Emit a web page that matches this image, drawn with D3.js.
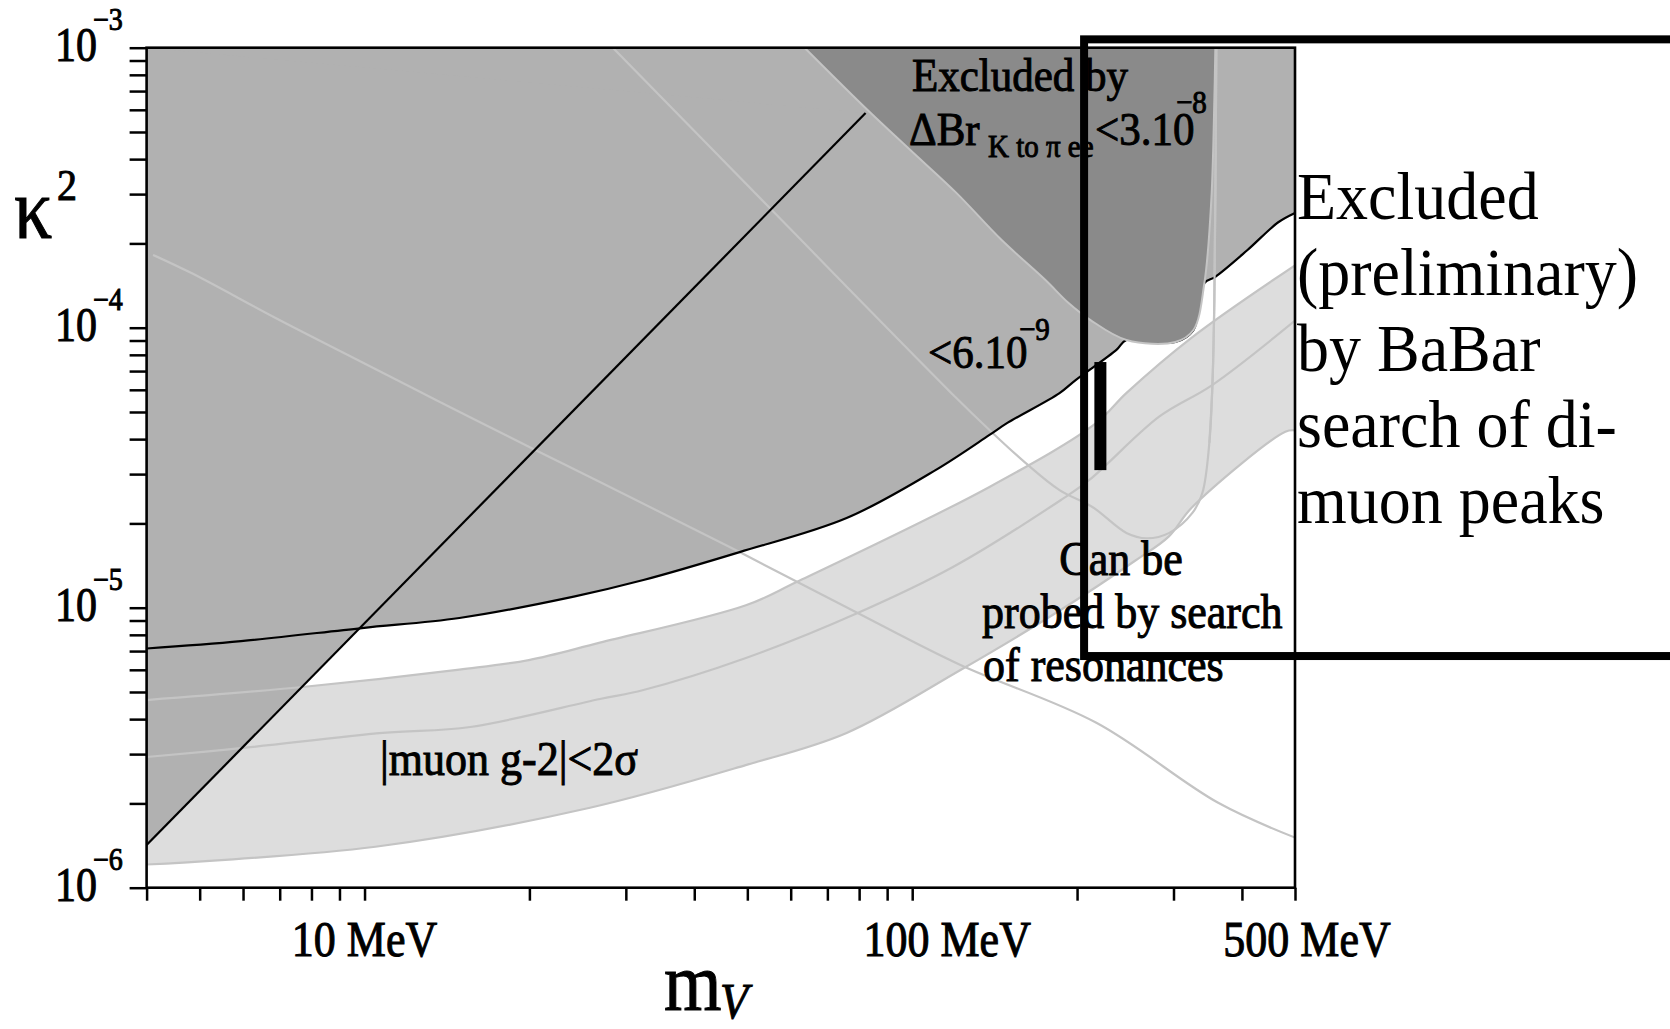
<!DOCTYPE html>
<html>
<head>
<meta charset="utf-8">
<script src="https://cdn.jsdelivr.net/npm/d3@7"></script>
<style>
  html, body { margin: 0; padding: 0; background: #fff; }
  svg { display: block; }
</style>
</head>
<body>
<svg id="chart" width="1670" height="1029"></svg>
<script>
// ---------------- DATA (x: m_V in MeV, y: kappa^2) ----------------
const xTicks = [4,5,6,7,8,9,10,20,30,40,50,60,70,80,90,100,200,300,400,500];
const xLabelValues = [10, 100, 500];
const xLabelTexts = ["10 MeV", "100 MeV", "500 MeV"];
const yTicks = [1e-6,2e-6,3e-6,4e-6,5e-6,6e-6,7e-6,8e-6,9e-6,
                1e-5,2e-5,3e-5,4e-5,5e-5,6e-5,7e-5,8e-5,9e-5,
                1e-4,2e-4,3e-4,4e-4,5e-4,6e-4,7e-4,8e-4,9e-4,1e-3];
const yLabelExponents = [-6, -5, -4, -3];

// black boundary of the excluded (medium grey) region
const excludedBoundary = [[4,7.15e-6],[5.95,7.6e-6],[9.89,8.46e-6],[14.9,9.19e-6],[24.1,1.096e-5],
  [32.3,1.256e-5],[48.4,1.58e-5],[75.9,2.09e-5],[110.3,3.1e-5],[138.4,4.14e-5],[149.2,4.57e-5],
  [185.8,5.84e-5],[198.8,6.5e-5],[236,8.33e-5],[246.1,9.04e-5],[302.4,8.89e-5],[326.2,9.81e-5],
  [341.6,1.444e-4],[357.7,1.52e-4],[409,1.89e-4],[466,2.38e-4],[500,2.57e-4]];

// straight diagonal black line (kappa^2 ~ m^2)
const diagonalLine = [[4,1.42e-6],[82.2,5.84e-4]];

// muon g-2 band: upper edge, central line, lower edge
const g2Upper = [[4,4.68e-6],[7.7,5.21e-6],[14.9,6.01e-6],[19.95,6.5e-6],[26.9,7.5e-6],[49.7,1.02e-5],
  [61.5,1.235e-5],[138.4,2.7e-5],[216.9,4.57e-5],[246,5.84e-5],[324.8,9.26e-5],[500,1.67e-4]];
const g2Central = [[4,2.93e-6],[5.95,3.15e-6],[10.8,3.57e-6],[15.6,3.75e-6],[26.9,4.72e-6],[32.3,5.08e-6],
  [49.7,6.61e-6],[79.5,9.57e-6],[118.9,1.4e-5],[186.6,2.42e-5],[210.6,2.86e-5],[282.8,4.82e-5],
  [353,6.24e-5],[500,1.06e-4]];
const g2Lower = [[4,1.21e-6],[10.47,1.4e-6],[25.8,1.93e-6],[49.65,2.74e-6],[75.9,3.57e-6],[122.5,5.99e-6],
  [186.6,9.81e-6],[256.4,1.48e-5],[293.6,1.79e-5],[324.8,2.29e-5],[480,4.25e-5],[500,4.3e-5]];

// long light grey descending line
const descendingLine = [[4.11,1.82e-4],[4.82,1.57e-4],[6.88,1.083e-4],[9.17,8.12e-5],[13.5,5.52e-5],
  [20.5,3.66e-5],[26.9,2.81e-5],[48.4,1.58e-5],[79.5,9.57e-6],[122.5,6.24e-6],[216.9,3.88e-6],
  [362,2.01e-6],[500,1.51e-6]];

// contour  Delta Br < 6.10^-9  (light grey U line)
const contour6e9 = [[28.4,1e-3],[54.9,2.68e-4],[120.4,5.61e-5],[138.4,4.31e-5],[161,3.29e-5],
  [185.8,2.63e-5],[213.3,2.29e-5],[246.1,1.85e-5],[267.7,1.77e-5],[294.8,1.85e-5],[324.8,2.18e-5],
  [338.7,2.57e-5],[348.8,3.88e-5],[353.2,6.14e-5],[356.2,1.256e-4],[359.2,1e-3]];

// contour  Delta Br < 3.10^-8  (dark grey region)
const contour3e8 = [[63.6,1e-3],[82.9,5.99e-4],[99.2,4.31e-4],[120.4,3.03e-4],[145.5,2.06e-4],
  [175.1,1.48e-4],[193,1.225e-4],[211.6,1.065e-4],[246.1,9.04e-5],[302.4,8.89e-5],[326.2,9.81e-5],
  [341.6,1.444e-4],[351.7,2.86e-4],[356.2,6.5e-4],[357.7,1e-3]];

// thick black bar (resonance search reach)
const barMass = [220.6];
const barRange = [3.1e-5, 7.54e-5];

// BaBar preliminary box (extends beyond the plot)
const babarBoxX = [206, 5000];
const babarBoxY = [6.72e-6, 1.071e-3];

const rightTextLines = ["Excluded", "(preliminary)", "by BaBar", "search of di-", "muon peaks"];
const probeTextLines = ["Can be", "probed by search", "of resonances"];

// ---------------- LAYOUT ----------------
const W = 1670, H = 1029;
const L = 146.6, R = 1295, T = 47.7, B = 887.7;
const FONT = '"Liberation Serif", "Times New Roman", Times, serif';
const SY = 1.1;
const C_MID = "#b1b1b1", C_DARK = "#8a8a8a", C_BAND = "#dddddd", C_LINE = "#c4c4c4";

const svg = d3.select("#chart");
svg.append("rect").attr("width", W).attr("height", H).attr("fill", "#fff");

const x = d3.scaleLog().domain([4, 500]).range([L, R]);
const y = d3.scaleLog().domain([1e-6, 1e-3]).range([B, T]);

svg.append("clipPath").attr("id", "plotclip")
  .append("rect").attr("x", L).attr("y", T).attr("width", R - L).attr("height", B - T);

const plot = svg.append("g").attr("clip-path", "url(#plotclip)");

const smooth = d3.line().x(d => x(d[0])).y(d => y(d[1])).curve(d3.curveCatmullRom.alpha(0.5));
const straight = d3.line().x(d => x(d[0])).y(d => y(d[1]));

const [xMin, xMax] = x.domain();
const [yMin, yMax] = y.domain();

// band fill
const bandPath = smooth(g2Upper) + smooth(g2Lower.slice().reverse()).replace(/^M/, "L") + "Z";
plot.append("path").attr("d", bandPath).attr("fill", C_BAND);

// medium grey excluded region: above black boundary
const exclPath = smooth(excludedBoundary) + "L" + x(xMax) + "," + y(yMax) + "L" + x(xMin) + "," + y(yMax) + "Z";
plot.append("path").attr("d", exclPath).attr("fill", C_MID);
// medium grey: left of diagonal
const triPath = straight([diagonalLine[0], diagonalLine[1], [xMin, yMax], [xMin, diagonalLine[0][1]]]) + "Z";
plot.append("path").attr("d", triPath).attr("fill", C_MID);

// light grey lines (under the black boundary)
[g2Upper, g2Central, g2Lower, descendingLine, contour6e9].forEach(arr => {
  plot.append("path").attr("d", smooth(arr)).attr("fill", "none")
    .attr("stroke", C_LINE).attr("stroke-width", 2.2);
});

// black lines
plot.append("path").attr("d", smooth(excludedBoundary)).attr("fill", "none")
  .attr("stroke", "#000").attr("stroke-width", 2.2);
plot.append("path").attr("d", straight(diagonalLine)).attr("fill", "none")
  .attr("stroke", "#000").attr("stroke-width", 2.2);

// dark grey region (covers the boundary where they meet)
plot.append("path").attr("d", smooth(contour3e8) + "Z").attr("fill", C_DARK);
plot.append("path").attr("d", smooth(contour3e8)).attr("fill", "none").attr("stroke", C_LINE).attr("stroke-width", 2);
// the 6e-9 contour's vertical arm stays visible over the dark region edge
plot.append("path").attr("d", smooth(contour6e9.slice(-4))).attr("fill", "none")
  .attr("stroke", C_LINE).attr("stroke-width", 2.2);

// thick bar
plot.selectAll("rect.bar").data(barMass).enter().append("rect").attr("class", "bar")
  .attr("x", d => x(d) - 6).attr("width", 12)
  .attr("y", y(barRange[1])).attr("height", y(barRange[0]) - y(barRange[1]))
  .attr("fill", "#000");

// ---------------- AXES ----------------
const xAxis = d3.axisBottom(x).tickValues(xTicks).tickSize(13).tickSizeOuter(0).tickFormat("");
const gx = svg.append("g").attr("transform", `translate(0,${B})`).call(xAxis);
gx.select(".domain").remove();
gx.selectAll(".tick line").attr("stroke", "#000").attr("stroke-width", 2.5);

const yAxis = d3.axisLeft(y).tickValues(yTicks).tickSize(17).tickSizeOuter(0).tickFormat("");
const gy = svg.append("g").attr("transform", `translate(${L},0)`).call(yAxis);
gy.select(".domain").remove();
gy.selectAll(".tick line").attr("stroke", "#000").attr("stroke-width", 2.5);

// frame
svg.append("rect").attr("x", L).attr("y", T).attr("width", R - L).attr("height", B - T)
  .attr("fill", "none").attr("stroke", "#000").attr("stroke-width", 2.6);

function txt(px, py, str, size, anchor, style, sy, heavy) {
  const t = svg.append("text")
    .attr("transform", `translate(${px},${py}) scale(1,${sy || SY})`)
    .attr("font-family", FONT).attr("font-size", size)
    .attr("text-anchor", anchor || "start")
    .attr("font-style", style || "normal")
    .attr("fill", "#000").text(str);
  if (heavy !== false) t.attr("stroke", "#000").attr("stroke-width", 0.9);
  return t;
}

// x tick labels
const xLabelShift = [0, 35, 12];
xLabelValues.forEach((v, i) => txt(x(v) + xLabelShift[i], 956, xLabelTexts[i], 44, "middle", "normal", 1.15));

// y tick labels
yLabelExponents.forEach(e => {
  const yy = y(Math.pow(10, e));
  txt(97, yy + 13, "10", 42, "end", "normal", 1.14);
  txt(93, yy - 18, "\u2212" + (-e), 28, "start", "normal", 1.1);
});

// axis titles
txt(14, 238, "\u03BA", 76, "start", "normal", 1.15);
txt(57, 200, "2", 40, "start", "normal", 1.1);
txt(664, 1010, "m", 74, "start", "normal", 1.12);
txt(720, 1018, "V", 46, "start", "italic", 1.08);

// annotations inside
txt(912, 91, "Excluded by", 43);
txt(909, 145, "\u0394Br", 43);
txt(988, 157, "K to \u03C0 ee", 29);
txt(1095, 145, "<3.10", 43);
txt(1176, 113, "\u22128", 29);
txt(928, 368, "<6.10", 43);
txt(1019, 340, "\u22129", 29);
txt(380, 775, "|muon g-2|<2\u03C3", 44);

const probeX = [1121, 982, 983];
const probeAnchor = ["middle", "start", "start"];
probeTextLines.forEach((s, i) => txt(probeX[i], 575 + i * 53, s, 44, probeAnchor[i]));

// BaBar box (on top)
svg.append("rect")
  .attr("x", x(babarBoxX[0])).attr("y", y(babarBoxY[1]))
  .attr("width", x(babarBoxX[1]) - x(babarBoxX[0]))
  .attr("height", y(babarBoxY[0]) - y(babarBoxY[1]))
  .attr("fill", "none").attr("stroke", "#000").attr("stroke-width", 8);

// right-hand text
rightTextLines.forEach((s, i) => txt(1297, 219 + i * 76, s, 64, "start", "normal", 1.06, false));
</script>
</body>
</html>
